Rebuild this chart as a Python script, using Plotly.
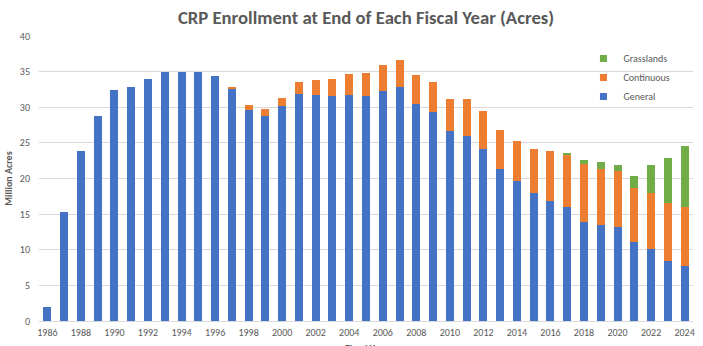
import plotly.graph_objects as go

# Fiscal years and CRP enrollment by program (million acres)
years = list(range(1986, 2025))

general = [1.9, 15.3, 23.9, 28.8, 32.4, 32.9, 34.0, 35.0, 35.0, 35.0,
           34.4, 32.6, 29.6, 28.8, 30.2, 31.9, 31.7, 31.6, 31.7, 31.6,
           32.3, 32.9, 30.5, 29.4, 26.7, 26.0, 24.2, 21.3, 19.7, 18.0,
           16.9, 16.0, 13.9, 13.5, 13.2, 11.1, 10.1, 8.4, 7.7]

continuous = [0, 0, 0, 0, 0, 0, 0, 0, 0, 0,
              0, 0.15, 0.7, 1.0, 1.1, 1.7, 2.1, 2.4, 3.0, 3.2,
              3.7, 3.8, 4.0, 4.2, 4.5, 5.2, 5.3, 5.5, 5.6, 6.2,
              7.0, 7.3, 8.2, 7.8, 7.8, 7.6, 7.9, 8.2, 8.3]

grasslands = [0] * 31 + [0.2, 0.5, 1.0, 0.9, 1.7, 3.9, 6.3, 8.6]

tick_years = list(range(1986, 2025, 2))

series = [("General", general, "#4472C4"),
          ("Continuous", continuous, "#ED7D31"),
          ("Grasslands", grasslands, "#70AD47")]

text_color = "#595959"
font_family = "Carlito, Lato, Liberation Sans, Arial, sans-serif"

fig = go.Figure()
for name, values, color in series:
    fig.add_trace(go.Bar(x=years, y=values, name=name, showlegend=False,
                         legendgroup=name,
                         marker=dict(color=color, line=dict(width=0))))
# small square legend keys
for name, values, color in series:
    fig.add_trace(go.Scatter(x=[None], y=[None], name=name, mode="markers",
                             legendgroup=name,
                             marker=dict(symbol="square", size=7, color=color)))

fig.update_layout(
    width=703, height=346,
    barmode="stack",
    bargap=0.52,
    plot_bgcolor="white",
    paper_bgcolor="white",
    margin=dict(l=38.6, r=9.6, t=36, b=25, autoexpand=False),
    font=dict(family=font_family, size=10, color=text_color),
    title=dict(
        text="<b>CRP Enrollment at End of Each Fiscal Year (Acres)</b>",
        x=0.5, xref="paper", xanchor="center",
        y=1 - 17 / 346, yref="container", yanchor="middle",
        font=dict(size=18.7, color=text_color, family=font_family),
    ),
    legend=dict(
        x=0.8325, y=0.972, xanchor="left", yanchor="top",
        traceorder="reversed",
        font=dict(size=10, color=text_color),
        itemwidth=30, tracegroupgap=0,
        bgcolor="rgba(0,0,0,0)",
    ),
    showlegend=True,
)

fig.update_xaxes(
    range=[1985.5, 2024.5],
    tickmode="array", tickvals=tick_years,
    ticktext=[str(y) for y in tick_years],
    showgrid=False, showline=False, zeroline=False,
    ticks="", tickfont=dict(size=10, color=text_color),
    ticklabelstandoff=4,
)
fig.update_yaxes(
    range=[0, 40], dtick=5, tick0=0,
    showgrid=True, gridcolor="#D9D9D9", gridwidth=1,
    zeroline=True, zerolinecolor="#D9D9D9", zerolinewidth=1,
    showline=False, ticks="",
    tickfont=dict(size=10, color=text_color),
    ticklabelstandoff=8,
    title=dict(text="<b>Million Acres</b>", font=dict(size=10, color=text_color),
               standoff=5),
)

fig.add_annotation(
    text="<b>Fiscal Year</b>", xref="paper", yref="paper",
    x=0.5, y=-0.066, xanchor="center", yanchor="top",
    showarrow=False, font=dict(size=10, color=text_color),
)

fig.write_html("out.html")
